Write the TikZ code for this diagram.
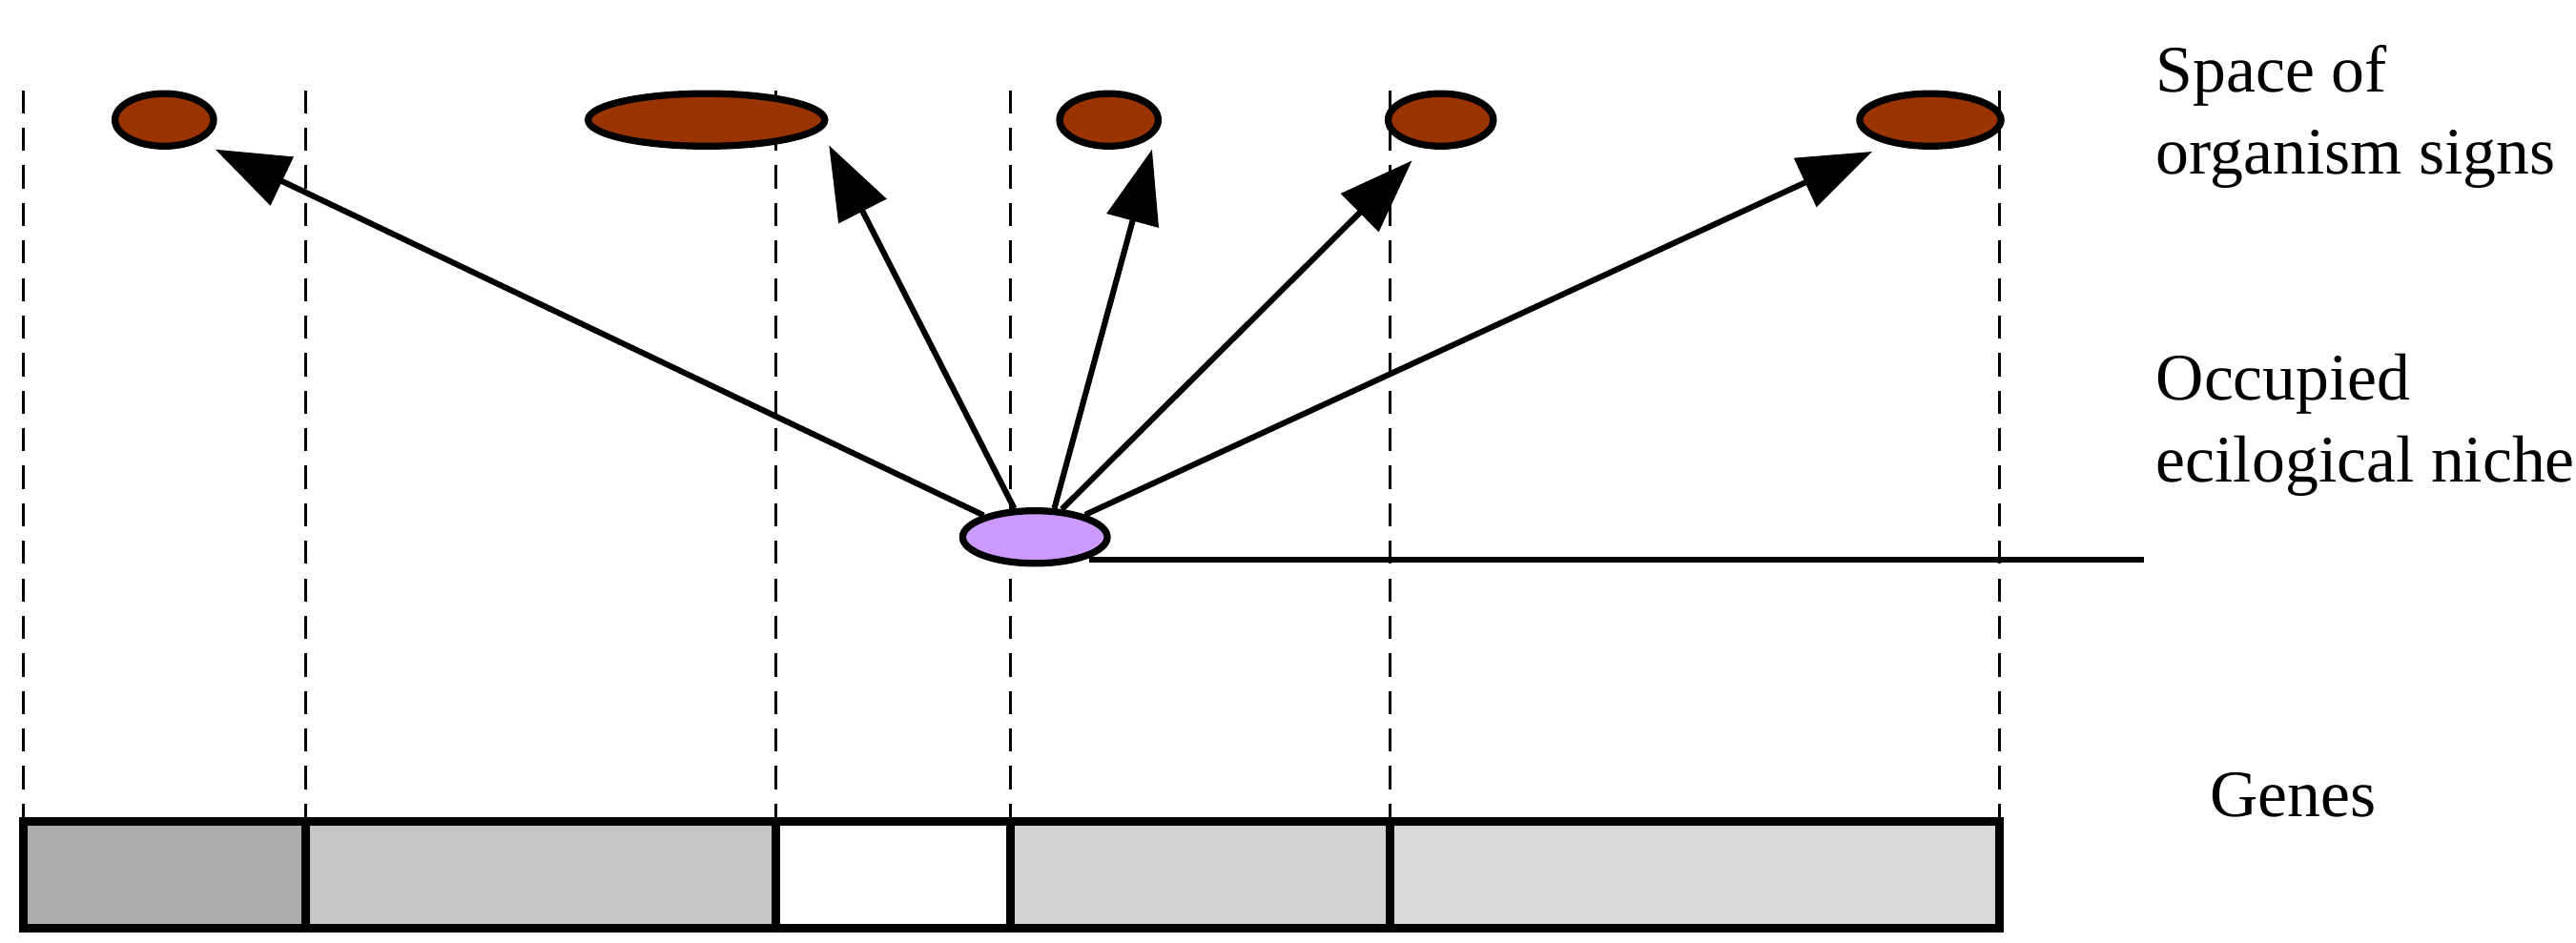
\documentclass[tikz,border=0pt]{standalone}
\usepackage{fontspec}
\setmainfont{Liberation Serif}
\usetikzlibrary{arrows.meta,shapes.geometric}
\definecolor{sign}{HTML}{993300}
\definecolor{niche}{HTML}{CC99FF}
\tikzset{
    signs/.style = {shape = ellipse, draw, fill = sign, line width = 1.2pt, inner sep = 0pt, minimum height = 0.32cm},
    guide/.style = {dashed, line width = 0.5pt, dash pattern = on 4pt off 2.5pt},
    ray/.style = {line width = 1pt, -{Triangle[length = 4.5mm, width = 3.2mm]}, shorten > = 3pt},
    label/.style = {anchor = north west, align = left, font = \fontsize{11.5}{14.2}\selectfont}
}
\begin{document}
\begin{tikzpicture}[x = 0.01cm, y = -0.01cm]
    \useasboundingbox (0,0) rectangle (1568,574);
    % dashed guides
    \foreach \x in {14, 186, 472, 615, 846, 1217}
        \draw[guide] (\x,55) -- (\x,500);
    % genes
    \draw[line width = 1.5pt, fill = gray!65] (14,500) rectangle (186,565);
    \draw[line width = 1.5pt, fill = gray!45] (186,500) rectangle (472,565);
    \draw[line width = 1.5pt, fill = white] (472,500) rectangle (615,565);
    \draw[line width = 1.5pt, fill = gray!35] (615,500) rectangle (846,565);
    \draw[line width = 1.5pt, fill = gray!30] (846,500) rectangle (1217,565);
    % signs
    \node[signs, minimum width = 0.6cm] (s1) at (100,73) {};
    \node[signs, minimum width = 1.44cm] (s2) at (430,73) {};
    \node[signs, minimum width = 0.6cm] (s3) at (675,73) {};
    \node[signs, minimum width = 0.64cm] (s4) at (877,73) {};
    \node[signs, minimum width = 0.86cm] (s5) at (1175,73) {};
    \node[shape = ellipse, draw, fill = niche, line width = 1.2pt, inner sep = 0pt,
        minimum width = 0.88cm, minimum height = 0.32cm] (n) at (630,327) {};
    \coordinate (e) at (1305,342);
    \draw[line width = 1pt] (n.-25) ++(3,0) coordinate (b) (b) -- (b -| e);
    % arrows
    \draw[ray] (n.157) -- (s1.-32);
    \draw[ray] (n.126) -- (s2.-5);
    \draw[ray] (n.56) -- (s3.-15);
    \draw[ray] (n.46) -- (s4.-120);
    \draw[ray] (n.24) -- (s5.-150);
    % labels
    \node[label] (t1) at (1300,15) {Space of\\organism signs};
    \node[label] (t2) at (1300,203) {Occupied\\ecilogical niche};
    \node[label] (t3) at (1333,458) {Genes};
\end{tikzpicture}
\end{document}
